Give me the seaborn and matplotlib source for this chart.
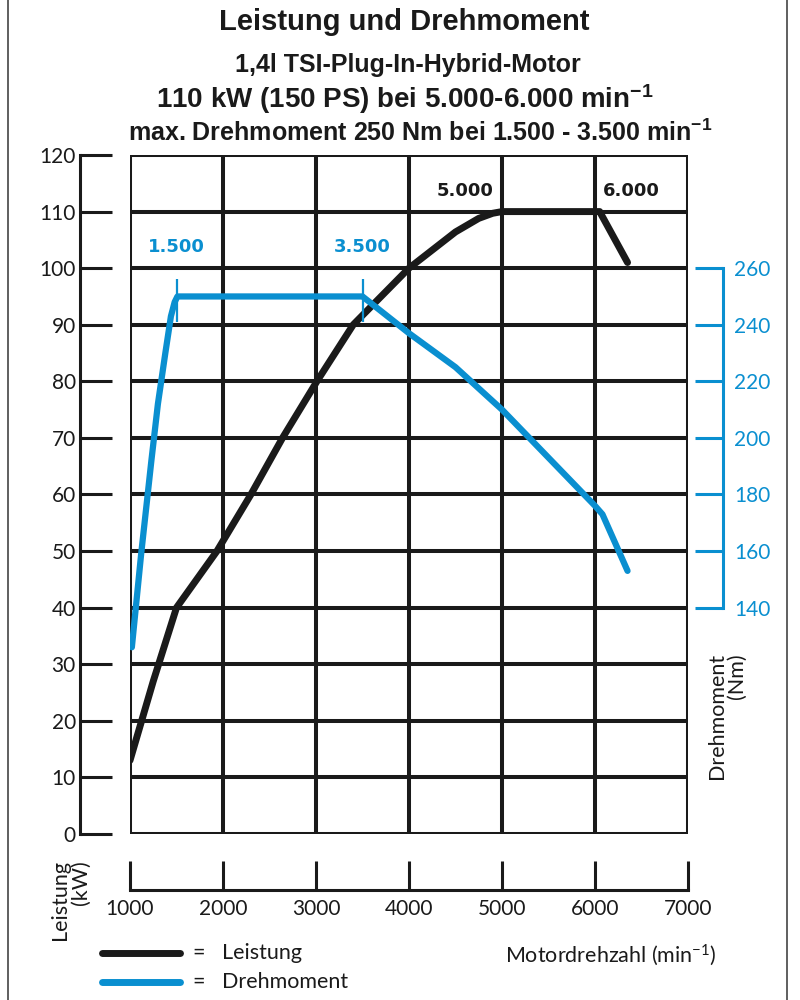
import numpy as np
import pandas as pd
import matplotlib
matplotlib.use("Agg")
import matplotlib.pyplot as plt
import seaborn as sns
from matplotlib.lines import Line2D

# Leistung (kW) ueber Motordrehzahl
rpm_power = [1000, 1250, 1500, 1935, 2300, 2640, 3010, 3400, 4000, 4250, 4500, 4750, 4900, 5000, 6050, 6350]
power_kw = [13, 27, 40, 50, 60, 70, 80, 90, 100, 103.2, 106.4, 108.8, 109.7, 110, 110, 101]

# Drehmoment (Nm) ueber Motordrehzahl
rpm_torque = [1020, 1120, 1230, 1300, 1380, 1440, 1480, 1510, 3500, 4000, 4500, 5000, 5500, 6000, 6080, 6350]
torque_nm = [126, 159, 192, 212, 230, 243, 248, 250, 250, 237, 225, 210, 193, 176, 173, 153]

rpm_ticks = [1000, 2000, 3000, 4000, 5000, 6000, 7000]
kw_ticks = list(range(0, 121, 10))
nm_ticks = list(range(140, 261, 20))

marks_torque = [1500, 3500]
marks_power = [5000, 6000]

BLUE = "#0a8fd0"
BLACK = "#1a1a1a"

sns.set_theme(style="white")
plt.rcParams['font.family'] = ['Lato', 'DejaVu Sans']
plt.rcParams['mathtext.default'] = 'regular'

df_p = pd.DataFrame({"rpm": rpm_power, "kW": power_kw})
df_t = pd.DataFrame({"rpm": rpm_torque, "Nm": torque_nm})

fig = plt.figure(figsize=(8, 10), dpi=100)
ax = fig.add_axes([0.1625, 0.166, 0.6975, 0.679])

sns.lineplot(data=df_p, x="rpm", y="kW", ax=ax, color=BLACK, lw=5,
             solid_capstyle="round", solid_joinstyle="round", sort=False, zorder=5)

ax.set_xlim(1000, 7000)
ax.set_ylim(0, 120)
ax.set_xticks(rpm_ticks)
ax.set_yticks(kw_ticks)
ax.set_xlabel("")
ax.set_ylabel("")
ax.grid(True, color=BLACK, lw=2.9)
ax.set_axisbelow(True)
for gl in ax.get_xgridlines() + ax.get_ygridlines():
    gl.set_clip_on(False)
    gl.set_solid_capstyle("projecting")

for s in ["top", "right"]:
    ax.spines[s].set_visible(False)
ax.spines["left"].set_position(("outward", 36))
ax.spines["bottom"].set_position(("outward", 40))
for s in ["left", "bottom"]:
    ax.spines[s].set_color(BLACK)
    ax.spines[s].set_linewidth(2.2)
ax.tick_params(axis="y", left=True, direction="in", length=23, width=2.2, color=BLACK,
               labelsize=15, pad=3, labelcolor=BLACK)
ax.tick_params(axis="x", bottom=True, direction="in", length=21, width=2.2, color=BLACK,
               labelsize=15, pad=7, labelcolor=BLACK)

# Drehmoment-Achse
ax2 = ax.twinx()
sns.lineplot(data=df_t, x="rpm", y="Nm", ax=ax2, color=BLUE, lw=4.5,
             solid_capstyle="round", solid_joinstyle="round", sort=False, zorder=5)
ax2.set_ylim(60, 300)
ax2.set_yticks(nm_ticks)
ax2.set_ylabel("")
ax2.grid(False)
for s in ["top", "left", "bottom"]:
    ax2.spines[s].set_visible(False)
ax2.spines["right"].set_position(("outward", 25))
ax2.spines["right"].set_bounds(140, 260)
ax2.spines["right"].set_color(BLUE)
ax2.spines["right"].set_linewidth(2.2)
ax2.tick_params(axis="y", right=True, direction="in", length=20, width=2.2, color=BLUE,
                labelcolor=BLUE, labelsize=15, pad=8)
ax2.vlines(marks_torque, 241, 256, color=BLUE, lw=1.6)

for r in marks_torque:
    ax2.text(r, 267.5, f"{r/1000:.3f}", color=BLUE, fontsize=13,
             fontweight="bold", ha="center", va="center", family="DejaVu Sans")
ax.text(marks_power[0] - 90, 113.6, f"{marks_power[0]/1000:.3f}", color=BLACK,
        fontsize=13, fontweight="bold", ha="right", va="center", family="DejaVu Sans")
ax.text(marks_power[1] + 80, 113.6, f"{marks_power[1]/1000:.3f}", color=BLACK,
        fontsize=13, fontweight="bold", ha="left", va="center", family="DejaVu Sans")

# Titel
tfam = ['Liberation Sans', 'DejaVu Sans']
fig.text(0.505, 0.978, "Leistung und Drehmoment", ha="center", va="center",
         fontsize=21, fontweight="bold", family=tfam, color=BLACK)
fig.text(0.51, 0.935, "1,4l TSI-Plug-In-Hybrid-Motor", ha="center", va="center",
         fontsize=18, fontweight="bold", family=tfam, color=BLACK)
fig.text(0.506, 0.901, "110 kW (150 PS) bei 5.000-6.000 min$^{\\mathregular{-1}}$",
         ha="center", va="center", fontsize=20, fontweight="bold", family=tfam, color=BLACK)
fig.text(0.525, 0.867, "max. Drehmoment 250 Nm bei 1.500 - 3.500 min$^{\\mathregular{-1}}$",
         ha="center", va="center", fontsize=18, fontweight="bold", family=tfam, color=BLACK)

# Achsentitel
fig.text(0.088, 0.1, "Leistung\n(kW)", rotation=90, ha="center", va="center",
         multialignment="right", fontsize=15.5, color=BLACK, linespacing=1.0)
fig.text(0.909, 0.284, "Drehmoment\n(Nm)", rotation=90, ha="center", va="center",
         multialignment="right", fontsize=15.5, color=BLACK, linespacing=1.0)
fig.text(0.631, 0.045, "Motordrehzahl (min$^{\\mathregular{-1}}$)", ha="left",
         va="center", fontsize=15.5, color=BLACK)

# Legende
fig.add_artist(Line2D([0.1275, 0.225], [0.047, 0.047], color=BLACK, lw=5,
                      solid_capstyle="round", transform=fig.transFigure))
fig.add_artist(Line2D([0.1275, 0.225], [0.018, 0.018], color=BLUE, lw=5,
                      solid_capstyle="round", transform=fig.transFigure))
fig.text(0.241, 0.047, "=   Leistung", ha="left", va="center", fontsize=15.5, color=BLACK)
fig.text(0.241, 0.018, "=   Drehmoment", ha="left", va="center", fontsize=15.5, color=BLACK)

# Rahmen links/rechts
for xf in [0.01, 0.984]:
    fig.add_artist(Line2D([xf, xf], [0, 1], color="#444444", lw=1.2,
                          transform=fig.transFigure))

fig.savefig("out.png", dpi=100)
